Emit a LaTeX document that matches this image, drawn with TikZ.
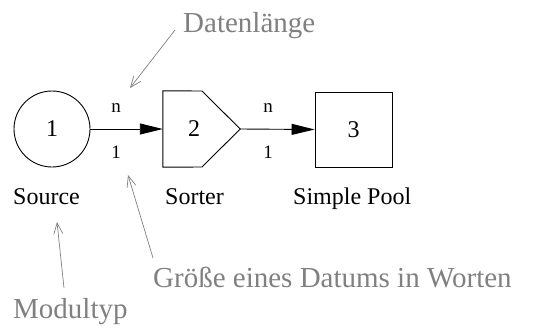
\documentclass[tikz,border=0pt]{standalone}
\usepackage{fontspec}
\setmainfont{Liberation Serif}
\usetikzlibrary{arrows.meta}
\begin{document}
\begin{tikzpicture}[x=1pt,y=-1pt,
  module/.style={draw=black, line width=0.9pt, inner sep=0pt,
    font=\fontsize{24}{28}\selectfont},
  flow/.style={line width=0.9pt, -{Triangle[length=23pt,width=11pt]}},
  mult/.style={font=\fontsize{19}{22}\selectfont, inner sep=0pt},
  caption/.style={font=\fontsize{24}{28}\selectfont, anchor=base west, inner sep=0pt},
  note/.style={font=\fontsize{29}{34}\selectfont, text=gray, anchor=base west, inner sep=0pt},
  hint/.style={draw=gray, line width=0.7pt, -{Straight Barb[length=11pt,width=9pt]}}]
\useasboundingbox (0,0) rectangle (535,327);

% modules
\node[module, circle, minimum size=76pt] (src) at (52,129) {1};
\node[inner sep=0pt, minimum width=77pt, minimum height=76pt] (sort) at (201.5,129) {};
\draw[line width=0.9pt] (sort.north west) -- (202,91) -- (sort.east) -- (202,167)
  -- (sort.south west) -- cycle;
\node[font=\fontsize{24}{28}\selectfont] (sortnum) at (194,129) {2};
\node[module, minimum width=77pt, minimum height=75pt] (pool) at (353.5,129.5) {3};

% data flows
\draw[flow] (src) -- (sort.west);
\draw[flow] (sort.east) -- (pool.west);

% multiplicities
\node[mult] (n1) at (116,108) {n};
\node[mult] (m1) at (116,152) {1};
\node[mult] (n2) at (268,108) {n};
\node[mult] (m2) at (268,152) {1};

% module type captions
\node[caption] (capsrc) at (13,204) {Source};
\node[caption] (capsort) at (165,204) {Sorter};
\node[caption] (cappool) at (293,204) {Simple Pool};

% annotations
\node[note] (dlen) at (183,32) {Datenlänge};
\node[note] (dsize) at (153,287) {Größe eines Datums in Worten};
\node[note] (mtype) at (13,318) {Modultyp};

\coordinate (dlenfrom) at (175,30);
\coordinate (dlento) at (130,88);
\coordinate (dsizefrom) at (153,258);
\coordinate (dsizeto) at (128,175);
\coordinate (mtypefrom) at (64,288);
\coordinate (mtypeto) at (57,222);
\draw[hint] (dlenfrom) -- (dlento);
\draw[hint] (dsizefrom) -- (dsizeto);
\draw[hint] (mtypefrom) -- (mtypeto);
\end{tikzpicture}
\end{document}
